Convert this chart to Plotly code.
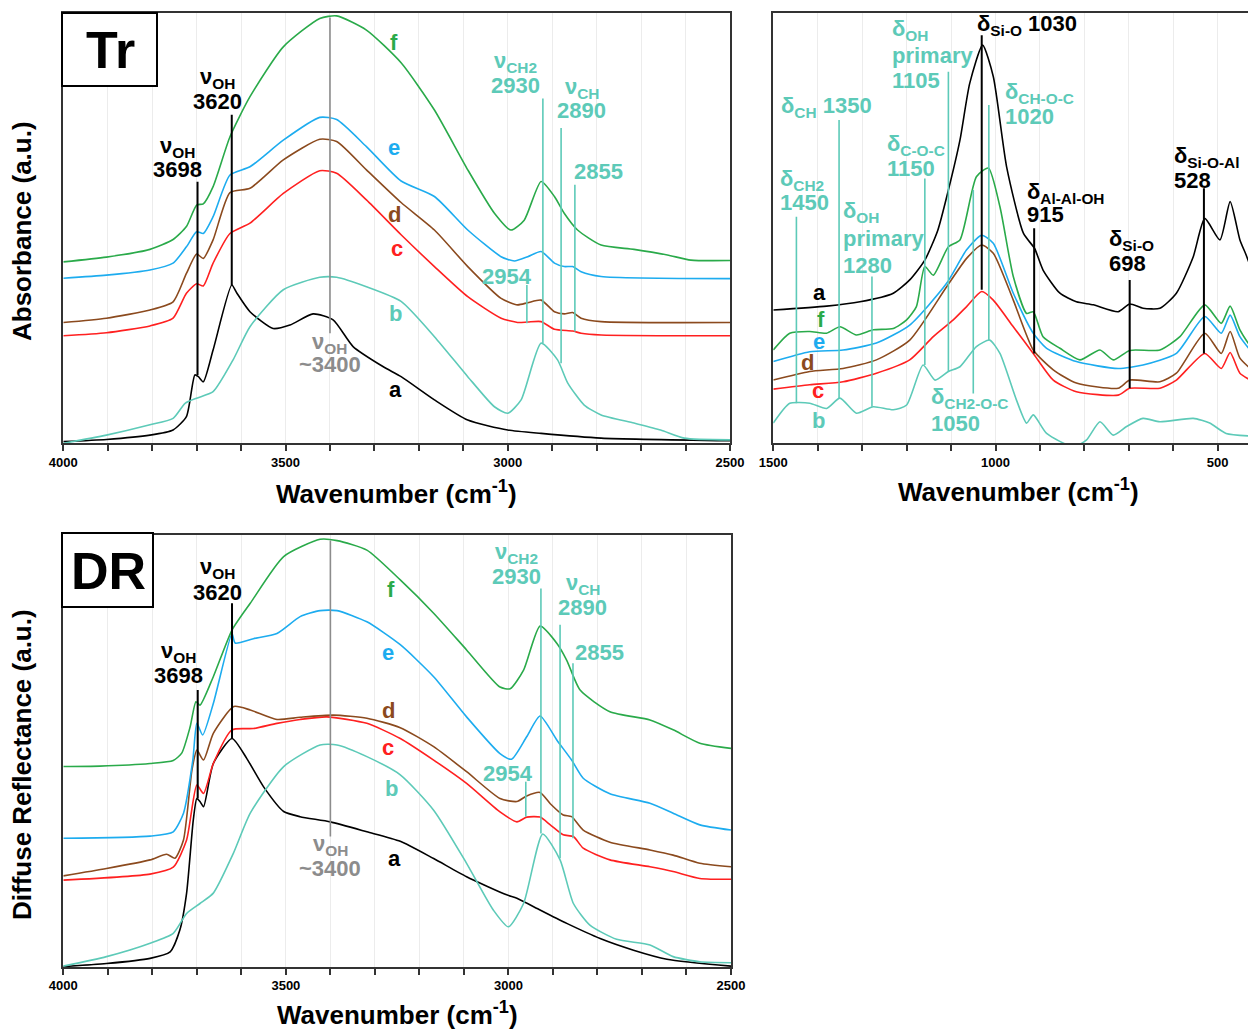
import plotly.graph_objects as go

FONT = "Liberation Sans, Arial, sans-serif"
COL = dict(a="#000000", b="#5DCAB8", c="#FF2020", d="#8B4A1E", e="#1DACEF", f="#2AAA4A")
GRAY = "#8C8C8C"
TEAL = COL["b"]
BLACK = "#000000"

# ---------------- Tr panel (4000-2500 cm-1) ----------------
tr_a_wn = [4000, 3903, 3805, 3753, 3723, 3704, 3696, 3685, 3663, 3621, 3610, 3580, 3528, 3490, 3438, 3393, 3348, 3280, 3240, 3165, 3090, 3000, 2925, 2790, 2500]
tr_a = [0.4, 0.9, 1.9, 3.1, 6.2, 15.9, 15.5, 14.3, 21.7, 36.8, 35.0, 30.6, 26.7, 27.5, 30.1, 28.7, 22.5, 17.8, 15.5, 10.1, 5.4, 3.1, 2.3, 1.2, 0.6]
tr_b_wn = [4000, 3903, 3805, 3753, 3726, 3700, 3663, 3618, 3580, 3505, 3423, 3385, 3318, 3240, 3165, 3090, 3030, 3000, 2970, 2925, 2888, 2865, 2828, 2790, 2716, 2656, 2603, 2500]
tr_b = [0.0, 1.9, 4.3, 5.8, 9.3, 10.5, 12.0, 19.4, 27.1, 35.7, 38.6, 38.6, 36.4, 33.0, 24.8, 15.5, 8.5, 7.0, 10.1, 23.3, 19.4, 14.0, 8.9, 6.6, 4.7, 3.1, 1.2, 0.8]
tr_c_wn = [4000, 3903, 3805, 3753, 3723, 3700, 3685, 3663, 3625, 3580, 3505, 3423, 3385, 3318, 3240, 3165, 3090, 3015, 2978, 2955, 2925, 2895, 2854, 2835, 2790, 2500]
tr_c = [25.0, 25.7, 27.3, 29.1, 34.9, 37.1, 36.6, 41.9, 48.8, 51.2, 58.1, 63.4, 62.8, 56.6, 48.5, 41.1, 34.1, 29.1, 28.1, 28.2, 28.3, 26.5, 26.1, 25.6, 25.2, 25.0]
tr_d_wn = [4000, 3903, 3805, 3753, 3723, 3700, 3685, 3663, 3625, 3580, 3505, 3423, 3385, 3318, 3240, 3165, 3090, 3015, 2978, 2955, 2925, 2895, 2873, 2854, 2835, 2790, 2500]
tr_d = [28.1, 29.1, 31.0, 32.9, 39.5, 44.0, 43.0, 47.3, 58.3, 59.3, 65.9, 70.7, 70.2, 63.6, 56.0, 49.6, 41.1, 33.7, 32.2, 32.7, 33.3, 30.6, 30.1, 30.4, 29.1, 28.3, 28.1]
tr_e_wn = [4000, 3903, 3805, 3753, 3723, 3700, 3685, 3663, 3625, 3580, 3505, 3423, 3385, 3318, 3240, 3165, 3090, 3015, 2985, 2955, 2925, 2895, 2873, 2854, 2835, 2790, 2500]
tr_e = [38.4, 39.1, 40.3, 41.9, 45.7, 49.2, 48.8, 52.7, 62.4, 64.3, 70.5, 75.8, 75.3, 69.0, 61.0, 57.4, 49.6, 43.4, 42.4, 43.4, 44.6, 41.9, 41.1, 41.1, 39.9, 38.8, 38.3]
tr_f_wn = [4000, 3903, 3805, 3753, 3723, 3700, 3685, 3663, 3625, 3580, 3505, 3423, 3385, 3318, 3240, 3165, 3090, 3030, 2993, 2963, 2925, 2895, 2873, 2843, 2790, 2716, 2641, 2588, 2500]
tr_f = [42.2, 43.3, 45.1, 47.4, 50.4, 55.4, 55.7, 59.7, 71.3, 80.6, 92.2, 98.8, 99.4, 96.1, 88.5, 77.5, 63.6, 53.5, 49.6, 51.9, 60.9, 57.4, 53.5, 49.6, 46.1, 45.1, 43.8, 42.6, 42.5]

# ---------------- fingerprint panel (1500-400 cm-1) ----------------
fp_a_wn = [1500, 1380, 1305, 1230, 1193, 1159, 1130, 1106, 1080, 1058, 1029, 1005, 975, 937, 912, 893, 855, 818, 780, 724, 698, 668, 630, 593, 555, 529, 495, 472, 450, 436, 415, 400]
fp_a = [31.0, 31.9, 32.9, 34.9, 38.0, 42.6, 49.5, 58.9, 70.5, 83.7, 92.6, 85.3, 64.3, 48.8, 45.3, 40.3, 34.9, 32.9, 32.2, 30.6, 32.4, 31.4, 31.4, 34.9, 43.4, 52.3, 47.3, 56.2, 47.3, 43.8, 38.0, 34.0]
fp_b_wn = [1500, 1463, 1418, 1380, 1350, 1313, 1275, 1230, 1200, 1163, 1136, 1106, 1080, 1043, 1013, 990, 953, 930, 915, 885, 825, 795, 765, 735, 705, 668, 630, 555, 518, 481, 415, 400]
fp_b = [4.7, 9.3, 9.3, 8.1, 10.5, 7.0, 8.5, 7.8, 8.9, 18.2, 14.7, 16.7, 17.8, 22.5, 24.0, 20.9, 10.1, 4.7, 6.6, 2.3, -0.8, 0.8, 5.0, 1.9, 3.9, 5.8, 5.0, 5.8, 4.7, 2.3, 1.6, 1.5]
fp_c_wn = [1500, 1418, 1343, 1268, 1193, 1140, 1095, 1065, 1031, 1005, 960, 915, 870, 818, 724, 698, 630, 593, 529, 492, 472, 450, 415, 400]
fp_c = [12.6, 13.6, 14.3, 16.3, 19.4, 24.8, 28.7, 31.8, 35.3, 33.3, 27.1, 20.9, 14.7, 12.0, 11.2, 12.8, 12.8, 14.7, 20.9, 17.4, 21.1, 16.3, 14.0, 13.0]
fp_d_wn = [1500, 1418, 1343, 1268, 1193, 1110, 1065, 1031, 1005, 960, 915, 870, 818, 724, 698, 630, 593, 529, 492, 472, 450, 415, 400]
fp_d = [14.7, 16.7, 17.4, 19.4, 24.0, 36.4, 43.0, 46.1, 44.2, 33.3, 21.7, 17.1, 14.0, 12.8, 14.7, 14.3, 16.3, 25.6, 20.9, 26.0, 19.8, 16.3, 15.0]
fp_e_wn = [1500, 1418, 1343, 1268, 1193, 1110, 1065, 1031, 1005, 960, 915, 885, 818, 724, 668, 593, 529, 492, 472, 450, 415, 400]
fp_e = [19.0, 21.3, 21.7, 23.3, 27.5, 37.2, 45.0, 48.4, 46.5, 34.9, 25.6, 22.1, 19.0, 17.4, 18.2, 20.9, 29.5, 25.6, 29.8, 24.8, 20.2, 18.5]
fp_f_wn = [1500, 1463, 1418, 1380, 1350, 1313, 1275, 1230, 1200, 1178, 1159, 1140, 1106, 1080, 1043, 1016, 990, 960, 930, 915, 893, 855, 810, 765, 735, 698, 630, 585, 529, 492, 472, 450, 415, 400]
fp_f = [21.7, 25.6, 26.0, 25.6, 27.1, 25.2, 26.4, 26.7, 28.7, 31.8, 41.1, 39.1, 45.7, 47.3, 62.0, 64.0, 55.0, 38.8, 30.2, 30.6, 24.8, 22.1, 19.4, 21.7, 19.4, 21.6, 21.7, 24.8, 32.2, 27.9, 31.9, 26.4, 20.9, 19.0]

# ---------------- DR panel (4000-2500 cm-1) ----------------
dr_a_wn = [4000, 3903, 3805, 3760, 3738, 3723, 3708, 3700, 3693, 3685, 3663, 3621, 3588, 3550, 3505, 3468, 3400, 3318, 3243, 3168, 3094, 3004, 2981, 2929, 2869, 2794, 2719, 2644, 2500]
dr_a = [0.1, 0.8, 2.0, 3.5, 8.6, 17.1, 34.0, 39.0, 38.3, 37.1, 47.1, 52.9, 48.3, 41.7, 36.0, 34.8, 33.6, 31.3, 29.1, 25.1, 20.9, 16.7, 15.9, 13.2, 10.1, 6.6, 3.9, 1.8, 0.2]
dr_b_wn = [4000, 3903, 3805, 3753, 3723, 3693, 3663, 3618, 3580, 3505, 3423, 3385, 3318, 3243, 3168, 3094, 3034, 3000, 2966, 2923, 2884, 2854, 2817, 2757, 2682, 2630, 2570, 2500]
dr_b = [0.2, 2.4, 5.5, 7.8, 12.4, 14.7, 17.1, 26.3, 35.6, 46.4, 51.4, 51.4, 48.7, 44.5, 36.3, 24.0, 13.2, 9.3, 14.7, 30.8, 24.8, 14.7, 9.7, 6.4, 5.1, 2.4, 1.2, 1.0]
dr_c_wn = [4000, 3805, 3753, 3723, 3700, 3685, 3663, 3621, 3573, 3520, 3468, 3408, 3318, 3243, 3168, 3094, 3019, 2981, 2959, 2929, 2906, 2877, 2854, 2832, 2772, 2682, 2630, 2570, 2500]
dr_c = [20.1, 21.5, 23.1, 29.4, 42.1, 40.2, 47.1, 54.9, 55.2, 56.4, 57.3, 57.9, 56.4, 52.9, 47.9, 42.5, 35.9, 33.6, 34.7, 34.7, 32.9, 30.6, 30.2, 27.5, 24.8, 23.2, 22.1, 20.5, 20.3]
dr_d_wn = [4000, 3903, 3805, 3768, 3749, 3730, 3711, 3700, 3685, 3663, 3617, 3580, 3520, 3468, 3393, 3318, 3243, 3168, 3094, 3019, 2981, 2959, 2929, 2906, 2877, 2858, 2832, 2772, 2682, 2630, 2570, 2500]
dr_d = [21.1, 22.8, 24.8, 26.1, 25.2, 29.4, 45.6, 50.2, 47.9, 54.1, 60.3, 59.5, 57.3, 57.8, 58.3, 57.6, 55.4, 51.0, 45.2, 39.0, 38.3, 39.6, 40.4, 37.8, 35.2, 34.8, 31.7, 28.9, 27.1, 25.9, 24.0, 23.2]
dr_e_wn = [4000, 3805, 3753, 3730, 3709, 3700, 3687, 3663, 3621, 3614, 3573, 3520, 3468, 3423, 3385, 3318, 3243, 3168, 3094, 3019, 2993, 2959, 2929, 2891, 2858, 2832, 2772, 2682, 2630, 2570, 2500]
dr_e = [29.8, 30.3, 31.3, 35.6, 47.9, 56.4, 53.7, 61.0, 77.2, 75.0, 76.0, 77.2, 81.1, 82.5, 82.5, 79.9, 74.6, 67.2, 57.9, 49.4, 48.1, 53.3, 58.1, 52.5, 47.9, 43.7, 40.1, 37.9, 35.6, 32.9, 31.7]
dr_f_wn = [4000, 3918, 3805, 3753, 3734, 3715, 3702, 3693, 3663, 3621, 3580, 3505, 3423, 3385, 3318, 3243, 3168, 3094, 3019, 2996, 2966, 2929, 2891, 2869, 2839, 2772, 2682, 2630, 2570, 2500]
dr_f = [46.4, 46.5, 47.1, 47.8, 49.5, 55.6, 61.4, 60.6, 67.2, 78.0, 84.2, 95.0, 99.0, 98.7, 96.5, 89.6, 81.9, 73.4, 64.8, 64.4, 68.7, 78.9, 74.9, 71.0, 64.1, 59.1, 57.2, 54.9, 51.8, 50.6]

# ---------------- band marker lines (wavenumber, top, bottom) ----------------
tr_mark_wn = [3698, 3621, 3400, 2921, 2880, 2849, 2957]
tr_mark_top = [60.8, 76.4, 99.0, 80.2, 73.3, 60.1, 36.8]
tr_mark_bot = [15.9, 36.8, 25.6, 23.3, 18.6, 26.0, 27.9]
tr_mark_col = [BLACK, BLACK, GRAY, TEAL, TEAL, TEAL, TEAL]

fp_mark_wn = [1031, 913, 698, 531, 1448, 1352, 1278, 1159, 1106, 1050, 1015]
fp_mark_top = [94.9, 50.0, 38.0, 59.3, 52.7, 75.2, 38.8, 61.6, 86.4, 58.9, 78.7]
fp_mark_bot = [35.7, 20.9, 12.8, 20.9, 9.3, 10.5, 8.5, 18.2, 16.7, 11.6, 24.0]
fp_mark_col = [BLACK, BLACK, BLACK, BLACK, TEAL, TEAL, TEAL, TEAL, TEAL, TEAL, TEAL]

dr_mark_wn = [3698, 3621, 3400, 2927, 2884, 2855, 2961]
dr_mark_top = [64.1, 84.2, 98.7, 87.6, 79.2, 70.3, 42.9]
dr_mark_bot = [39.0, 52.9, 30.2, 30.9, 25.2, 29.8, 34.8]
dr_mark_col = [BLACK, BLACK, GRAY, TEAL, TEAL, TEAL, TEAL]

# ---------------- text labels ----------------
tr_text = ["ν<sub>OH</sub>", "3698", "ν<sub>OH</sub>", "3620", "ν<sub>OH</sub>", "~3400",
           "ν<sub>CH2</sub>", "2930", "ν<sub>CH</sub>", "2890", "2855", "2954"]
tr_text_x = [3742, 3742, 3654, 3654, 3400, 3400, 2982, 2982, 2833, 2833, 2795, 3002]
tr_text_y = [68.9, 63.6, 85.0, 79.6, 23.3, 18.4, 88.7, 83.1, 82.6, 77.5, 63.1, 38.7]
tr_text_col = [BLACK, BLACK, BLACK, BLACK, GRAY, GRAY, TEAL, TEAL, TEAL, TEAL, TEAL, TEAL]

dr_text = tr_text
dr_text_x = [3742, 3742, 3654, 3654, 3400, 3400, 2982, 2982, 2833, 2833, 2795, 3002]
dr_text_y = [72.9, 67.4, 92.4, 86.8, 28.2, 22.9, 95.8, 90.5, 88.7, 83.3, 72.7, 44.9]
dr_text_col = tr_text_col

fp_text = ["δ<sub>Si-O</sub> 1030", "δ<sub>OH</sub>", "primary", "1105", "δ<sub>CH-O-C</sub>", "1020",
           "δ<sub>CH</sub> 1350", "δ<sub>C-O-C</sub>", "1150", "δ<sub>CH2</sub>", "1450",
           "δ<sub>OH</sub>", "primary", "1280", "δ<sub>Al-Al-OH</sub>", "915",
           "δ<sub>Si-O</sub>", "698", "δ<sub>Si-O-Al</sub>", "528", "δ<sub>CH2-O-C</sub>", "1050"]
fp_text_x = [1046, 1237, 1237, 1237, 983, 983, 1487, 1249, 1249, 1489, 1489,
             1348, 1348, 1348, 934, 934, 749, 749, 603, 603, 1150, 1150]
fp_text_y = [97.3, 96.1, 90.3, 84.3, 81.5, 76.1, 78.2, 69.4, 64.0, 61.2, 56.1,
             53.8, 47.7, 41.4, 58.2, 53.1, 47.3, 41.9, 66.6, 61.2, 10.5, 4.7]
fp_text_col = [BLACK, TEAL, TEAL, TEAL, TEAL, TEAL, TEAL, TEAL, TEAL, TEAL, TEAL,
               TEAL, TEAL, TEAL, BLACK, BLACK, BLACK, BLACK, BLACK, BLACK, TEAL, TEAL]

series = ["a", "b", "c", "d", "e", "f"]
tr_lab_x = [3252, 3252, 3250, 3255, 3255, 3257]
tr_lab_y = [12.4, 30.3, 45.2, 53.1, 68.7, 93.1]
fp_lab_x = [1395, 1399, 1399, 1424, 1397, 1393]
fp_lab_y = [35.0, 5.2, 12.2, 18.9, 23.6, 28.7]
dr_lab_x = [3255, 3262, 3270, 3270, 3270, 3263]
dr_lab_y = [25.2, 41.4, 50.7, 59.3, 72.9, 87.3]

W, H = 1256, 1029
OFF = 8  # page body margin of the html page


def px(xp):
    return (xp - OFF) / W


def py(yp):
    return 1 - (yp - OFF) / H


fig = go.Figure()

panels = [
    ("x", "y", [(tr_a_wn, tr_a), (tr_b_wn, tr_b), (tr_c_wn, tr_c), (tr_d_wn, tr_d), (tr_e_wn, tr_e), (tr_f_wn, tr_f)],
     (tr_mark_wn, tr_mark_top, tr_mark_bot, tr_mark_col)),
    ("x2", "y2", [(fp_a_wn, fp_a), (fp_b_wn, fp_b), (fp_c_wn, fp_c), (fp_d_wn, fp_d), (fp_e_wn, fp_e), (fp_f_wn, fp_f)],
     (fp_mark_wn, fp_mark_top, fp_mark_bot, fp_mark_col)),
    ("x3", "y3", [(dr_a_wn, dr_a), (dr_b_wn, dr_b), (dr_c_wn, dr_c), (dr_d_wn, dr_d), (dr_e_wn, dr_e), (dr_f_wn, dr_f)],
     (dr_mark_wn, dr_mark_top, dr_mark_bot, dr_mark_col)),
]

for xa, ya, curves, marks in panels:
    for k, (wn, val) in zip(series, curves):
        fig.add_trace(go.Scatter(x=wn, y=val, xaxis=xa, yaxis=ya, mode="lines",
                                 line=dict(color=COL[k], width=1.6, shape="spline", smoothing=0.6),
                                 showlegend=False, hoverinfo="skip"))
    for wn, t, b, c in zip(*marks):
        fig.add_trace(go.Scatter(x=[wn, wn], y=[b, t], xaxis=xa, yaxis=ya, mode="lines",
                                 line=dict(color=c, width=2 if c == BLACK else 1.6),
                                 showlegend=False, hoverinfo="skip"))

ann = []


def txt(text, x, y, xref, yref, color, size=22, xanchor="center"):
    ann.append(dict(text=text, x=x, y=y, xref=xref, yref=yref, showarrow=False,
                    xanchor=xanchor, yanchor="middle",
                    font=dict(family=FONT, size=size, color=color, weight="bold")))


for t, x, y, c in zip(tr_text, tr_text_x, tr_text_y, tr_text_col):
    txt(t, x, y, "x", "y", c)
for t, x, y, c in zip(dr_text, dr_text_x, dr_text_y, dr_text_col):
    txt(t, x, y, "x3", "y3", c)
for t, x, y, c in zip(fp_text, fp_text_x, fp_text_y, fp_text_col):
    txt(t, x, y, "x2", "y2", c, xanchor="left")
for k, x, y in zip(series, tr_lab_x, tr_lab_y):
    txt(k, x, y, "x", "y", COL[k])
for k, x, y in zip(series, fp_lab_x, fp_lab_y):
    txt(k, x, y, "x2", "y2", COL[k])
for k, x, y in zip(series, dr_lab_x, dr_lab_y):
    txt(k, x, y, "x3", "y3", COL[k])

# axis titles
wn_title = "Wavenumber (cm<sup>-1</sup>)"
txt(wn_title, px(396), py(492), "paper", "paper", BLACK, size=26)
txt(wn_title, px(1018), py(490), "paper", "paper", BLACK, size=26)
txt(wn_title, px(397), py(1013), "paper", "paper", BLACK, size=26)
for t, yc in [("Absorbance (a.u.)", 231), ("Diffuse Reflectance (a.u.)", 765)]:
    ann.append(dict(text=t, x=px(22), y=py(yc), xref="paper", yref="paper", showarrow=False,
                    textangle=-90, xanchor="center", yanchor="middle",
                    font=dict(family=FONT, size=26, color=BLACK, weight="bold")))

# panel labels
txt("Tr", px(110), py(50), "paper", "paper", BLACK, size=52)
txt("DR", px(108), py(571), "paper", "paper", BLACK, size=52)
shapes = [
    dict(type="rect", xref="paper", yref="paper", x0=px(62), x1=px(157), y0=py(86), y1=py(13),
         fillcolor="white", line=dict(color=BLACK, width=2), layer="above"),
    dict(type="rect", xref="paper", yref="paper", x0=px(62), x1=px(153), y0=py(607), y1=py(533),
         fillcolor="white", line=dict(color=BLACK, width=2), layer="above"),
]


def xax(domain, rng, lo, hi, anchor):
    vals = list(range(lo, hi + 1, 100))
    return dict(domain=domain, range=rng, tickvals=vals,
                ticktext=[str(v) if v % 500 == 0 else " " for v in vals],
                ticks="outside", ticklen=6, tickwidth=1.5, tickcolor="#333",
                tickfont=dict(family=FONT, size=13, color=BLACK, weight="bold"),
                showline=True, linecolor="#333", linewidth=1.5, mirror=True,
                showgrid=True, gridcolor="#ececec", gridwidth=1, zeroline=False,
                automargin=False, fixedrange=True, anchor=anchor)


def yax(domain, anchor):
    return dict(domain=domain, range=[0, 100], showticklabels=False, ticks="", showgrid=False,
                zeroline=False, showline=True, linecolor="#333", linewidth=1.5, mirror=True,
                automargin=False, fixedrange=True, anchor=anchor)


# right panel: 1500 at x=773.3, 222.2 px per 500 cm-1; extends past the visible edge
fp_right_px = W + OFF
fp_end_wn = 1500 - (fp_right_px - 773.3) * 500 / 222.2

top_dom = [py(443.3), py(13.3)]
fig.update_layout(
    width=W, height=H, margin=dict(l=0, r=0, t=0, b=0, autoexpand=False),
    paper_bgcolor="white", plot_bgcolor="white",
    xaxis=xax([px(63.3), px(730)], [4000, 2500], 2500, 4000, "y"),
    yaxis=yax(top_dom, "x"),
    xaxis2=xax([px(773.3), 1.0], [1500, fp_end_wn], 400, 1500, "y2"),
    yaxis2=yax(top_dom, "x2"),
    xaxis3=xax([px(63.3), px(731)], [4000, 2500], 2500, 4000, "y3"),
    yaxis3=yax([py(967), py(535)], "x3"),
    annotations=ann, shapes=shapes, showlegend=False,
)

fig.write_html("out.html")
